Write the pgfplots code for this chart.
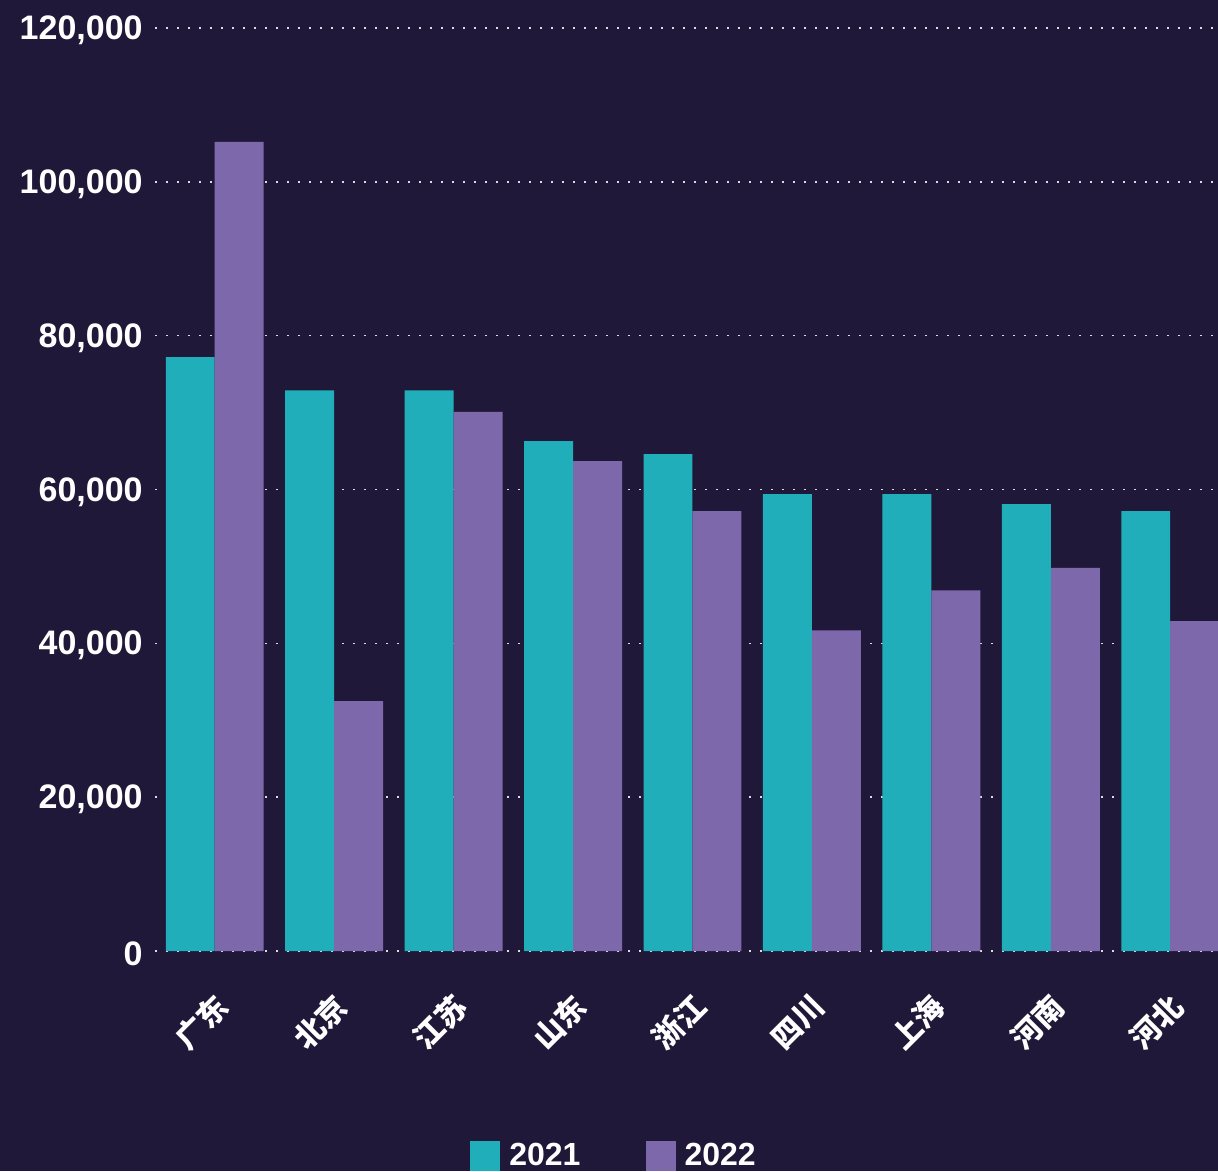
\documentclass[border=0pt]{standalone}
\usepackage{pgfplots}
\pgfplotsset{compat=1.18}
\usepackage{fontspec}
\setmainfont{Liberation Sans}
\newfontfamily\cjk{Noto Sans CJK SC}
\definecolor{bgc}{HTML}{201838}
\definecolor{cteal}{HTML}{20AFBA}
\definecolor{cpurple}{HTML}{7E68AC}
\begin{document}
\begin{tikzpicture}
\useasboundingbox (0pt,0pt) rectangle (609pt,585.5pt);
\fill[bgc] (0pt,0pt) rectangle (609pt,585.5pt);
\clip (0pt,0pt) rectangle (609pt,585.5pt);
\begin{axis}[
  at={(77.5pt,110pt)}, anchor=south west,
  scale only axis, width=531.5pt, height=461.5pt,
  xmin=-0.5, xmax=8.4, ymin=0, ymax=120000,
  ytick={0,20000,40000,60000,80000,100000,120000},
  yticklabels={0,{20,000},{40,000},{60,000},{80,000},{100,000},{120,000}},
  scaled y ticks=false,
  yticklabel style={text=white, font=\bfseries\fontsize{17}{17}\selectfont, inner sep=0pt, xshift=-6pt, yshift=-1.2pt},
  xtick={0,1,2,3,4,5,6,7,8},
  xticklabels={广东,北京,江苏,山东,浙江,四川,上海,河南,河北},
  xticklabel style={text=white, font=\cjk\bfseries\fontsize{15}{15}\selectfont, inner sep=0pt, xshift=4pt, yshift=-25pt, rotate=45, anchor=east},
  axis line style={draw=none},
  major tick length=0pt,
  ymajorgrids,
  grid style={white!85!bgc, line width=0.8pt, dash pattern=on 0.8pt off 4.7pt},
  ybar, bar width=0.41,
  legend style={at={(axis description cs:0.2963,-0.2221)}, anchor=west, draw=none, fill=none, text=white,
    font=\bfseries\fontsize{16}{16}\selectfont, inner sep=0pt, nodes={inner sep=0pt},
    /tikz/every even column/.append style={column sep=32.5pt},
    /tikz/every odd column/.append style={column sep=4.5pt}},
  legend columns=2,
  legend image code/.code={\fill[#1] (0pt,-7.5pt) rectangle (15pt,7.5pt);},
]
\addplot[fill=cteal, draw=none, bar shift=-0.205] coordinates {
(0,77200) (1,72900) (2,72900) (3,66300) (4,64600) (5,59400) (6,59400) (7,58100) (8,57200)};
\addplot[fill=cpurple, draw=none, bar shift=0.205] coordinates {
(0,105200) (1,32500) (2,70100) (3,63700) (4,57200) (5,41700) (6,46900) (7,49800) (8,42900)};
\legend{2021,2022}
\end{axis}
\end{tikzpicture}
\end{document}
